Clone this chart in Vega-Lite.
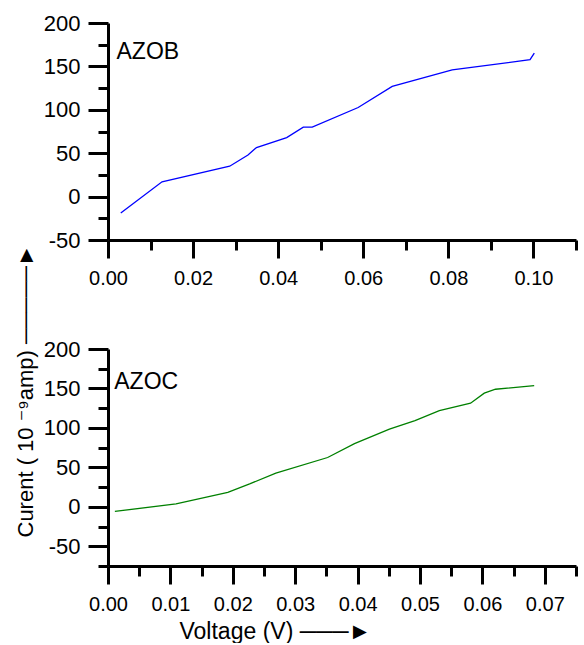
{
  "$schema": "https://vega.github.io/schema/vega-lite/v6.json",
  "background": "white",
  "padding": {"left": 14, "top": 12, "right": 6, "bottom": 0},
  "bounds": "flush",
  "spacing": 109,
  "config": {
    "font": "Liberation Sans",
    "view": {"stroke": null},
    "axis": {
      "grid": false,
      "domainColor": "black",
      "domainWidth": 3,
      "tickColor": "black",
      "tickWidth": 3,
      "labelColor": "black",
      "labelFont": "Liberation Sans",
      "labelFontSize": 21,
      "labelOverlap": false,
      "labelFlush": false,
      "titleFont": "Liberation Sans, DejaVu Sans",
      "titleFontSize": 23,
      "titleFontWeight": "normal",
      "titleColor": "black"
    }
  },
  "datasets": {
    "azob": [
      {"v": 0.003, "i": -19},
      {"v": 0.0127, "i": 17},
      {"v": 0.0286, "i": 35},
      {"v": 0.0329, "i": 48},
      {"v": 0.0349, "i": 56.5},
      {"v": 0.042, "i": 68},
      {"v": 0.0459, "i": 80},
      {"v": 0.048, "i": 80},
      {"v": 0.0588, "i": 102.6},
      {"v": 0.0668, "i": 127},
      {"v": 0.0809, "i": 146},
      {"v": 0.0992, "i": 157.7},
      {"v": 0.1002, "i": 165.4}
    ],
    "azoc": [
      {"v": 0.0011, "i": -5.8},
      {"v": 0.0109, "i": 3.6},
      {"v": 0.0192, "i": 18.3},
      {"v": 0.0227, "i": 29},
      {"v": 0.0269, "i": 42.8},
      {"v": 0.0352, "i": 62.5},
      {"v": 0.0395, "i": 80},
      {"v": 0.0451, "i": 98.4},
      {"v": 0.0492, "i": 109.3},
      {"v": 0.0531, "i": 122},
      {"v": 0.0581, "i": 131.3},
      {"v": 0.0603, "i": 144},
      {"v": 0.0621, "i": 149},
      {"v": 0.0683, "i": 153.6}
    ],
    "labB": [{"label": "AZOB", "v": 0.002, "i": 159}],
    "labC": [{"label": "AZOC", "v": 0.001, "i": 149}]
  },
  "vconcat": [
    {
      "width": 468,
      "height": 217,
      "resolve": {"axis": {"x": "independent", "y": "independent"}},
      "layer": [
        {
          "data": {"name": "azob"},
          "mark": {"type": "line", "color": "#0000ff", "strokeWidth": 1.3},
          "encoding": {
            "x": {
              "field": "v", "type": "quantitative",
              "scale": {"domain": [0, 0.11], "nice": false, "zero": false},
              "axis": {
                "orient": "bottom",
                "title": null,
                "values": [0, 0.02, 0.04, 0.06, 0.08, 0.1],
                "format": ".2f",
                "tickSize": 18,
                "labelFontSize": 20,
                "labelPadding": 10,
                "labelOverlap": false
              }
            },
            "y": {
              "field": "i", "type": "quantitative",
              "scale": {"domain": [-50, 200], "nice": false, "zero": false},
              "axis": {
                "orient": "left",
                "title": null,
                "values": [-50, 0, 50, 100, 150, 200],
                "labelExpr": "datum.value < 0 ? '-' + abs(datum.value) : datum.label",
                "tickSize": 20,
                "labelFontSize": 22,
                "labelPadding": 8,
                "labelOverlap": false
              }
            }
          }
        },
        {
          "data": {"name": "labB"},
          "mark": {"type": "text", "align": "left", "baseline": "alphabetic", "fontSize": 23, "font": "Liberation Sans", "color": "black"},
          "encoding": {
            "x": {
              "field": "v", "type": "quantitative",
              "scale": {"domain": [0, 0.11], "nice": false, "zero": false},
              "axis": {
                "orient": "bottom", "title": null, "labels": false, "domain": false,
                "values": [0.01, 0.03, 0.05, 0.07, 0.09, 0.11],
                "tickSize": 10
              }
            },
            "y": {
              "field": "i", "type": "quantitative",
              "scale": {"domain": [-50, 200], "nice": false, "zero": false},
              "axis": {
                "orient": "left", "title": null, "labels": false, "domain": false,
                "values": [-25, 25, 75, 125, 175],
                "tickSize": 10
              }
            },
            "text": {"field": "label"}
          }
        }
      ]
    },
    {
      "width": 468,
      "height": 217,
      "resolve": {"axis": {"x": "independent", "y": "independent"}},
      "layer": [
        {
          "data": {"name": "azoc"},
          "mark": {"type": "line", "color": "#008000", "strokeWidth": 1.3},
          "encoding": {
            "x": {
              "field": "v", "type": "quantitative",
              "scale": {"domain": [0, 0.075], "nice": false, "zero": false},
              "axis": {
                "orient": "bottom",
                "title": "Voltage (V)  ───►",
                "titleX": 71,
                "titleAlign": "left",
                "titleAnchor": "start",
                "values": [0, 0.01, 0.02, 0.03, 0.04, 0.05, 0.06, 0.07],
                "format": ".2f",
                "tickSize": 18,
                "labelFontSize": 20,
                "labelPadding": 10,
                "labelOverlap": false,
                "titlePadding": 6
              }
            },
            "y": {
              "field": "i", "type": "quantitative",
              "scale": {"domain": [-75, 200], "nice": false, "zero": false},
              "axis": {
                "orient": "left",
                "title": "Curent ( 10 ⁻⁹amp)   ─────►",
                "titleFontSize": 22,
                "titleAlign": "left",
                "titleY": 188,
                "values": [-50, 0, 50, 100, 150, 200],
                "labelExpr": "datum.value < 0 ? '-' + abs(datum.value) : datum.label",
                "tickSize": 20,
                "labelFontSize": 22,
                "labelPadding": 8,
                "labelOverlap": false,
                "titlePadding": 6
              }
            }
          }
        },
        {
          "data": {"name": "labC"},
          "mark": {"type": "text", "align": "left", "baseline": "alphabetic", "fontSize": 23, "font": "Liberation Sans", "color": "black"},
          "encoding": {
            "x": {
              "field": "v", "type": "quantitative",
              "scale": {"domain": [0, 0.075], "nice": false, "zero": false},
              "axis": {
                "orient": "bottom", "title": null, "labels": false, "domain": false,
                "values": [0.005, 0.015, 0.025, 0.035, 0.045, 0.055, 0.065, 0.075],
                "tickSize": 10
              }
            },
            "y": {
              "field": "i", "type": "quantitative",
              "scale": {"domain": [-75, 200], "nice": false, "zero": false},
              "axis": {
                "orient": "left", "title": null, "labels": false, "domain": false,
                "values": [-75, -25, 25, 75, 125, 175],
                "tickSize": 10
              }
            },
            "text": {"field": "label"}
          }
        }
      ]
    }
  ]
}
